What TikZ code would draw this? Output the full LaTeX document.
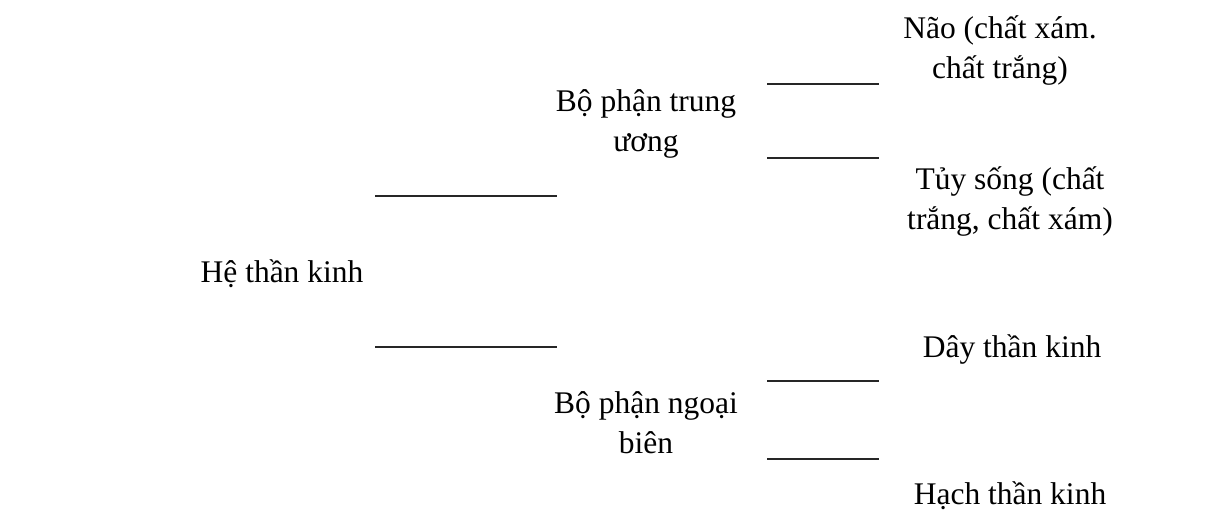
\documentclass[tikz,border=0pt]{standalone}
\usepackage{fontspec}
\setmainfont{Liberation Serif}
\begin{document}
\begin{tikzpicture}[x=1pt,y=-1pt,
  lbl/.style={align=center,inner sep=0pt,font=\fontsize{31.5}{40}\selectfont,text=black},
  bar/.style={line width=1.6pt,draw=black!85}]
\useasboundingbox (0,0) rectangle (1209,512);
\node[lbl] (he) at (282,274) {Hệ thần kinh};
\node[lbl] (tw) at (646,124) {Bộ phận trung\\ương};
\node[lbl] (nb) at (646,423) {Bộ phận ngoại\\biên};
\node[lbl] (nao) at (1000,50) {Não (chất xám.\\chất trắng)};
\node[lbl] (tuy) at (1010,201) {Tủy sống (chất\\trắng, chất xám)};
\node[lbl] (day) at (1012,349) {Dây thần kinh};
\node[lbl] (hach) at (1010,496) {Hạch thần kinh};
\coordinate (a1) at (375,196); \coordinate (a2) at (557,196);
\coordinate (b1) at (375,347); \coordinate (b2) at (557,347);
\coordinate (c1) at (767,84);  \coordinate (c2) at (879,84);
\coordinate (d1) at (767,158); \coordinate (d2) at (879,158);
\coordinate (e1) at (767,381); \coordinate (e2) at (879,381);
\coordinate (f1) at (767,459); \coordinate (f2) at (879,459);
\draw[bar] (a1) -- (a2);
\draw[bar] (b1) -- (b2);
\draw[bar] (c1) -- (c2);
\draw[bar] (d1) -- (d2);
\draw[bar] (e1) -- (e2);
\draw[bar] (f1) -- (f2);
\end{tikzpicture}
\end{document}
